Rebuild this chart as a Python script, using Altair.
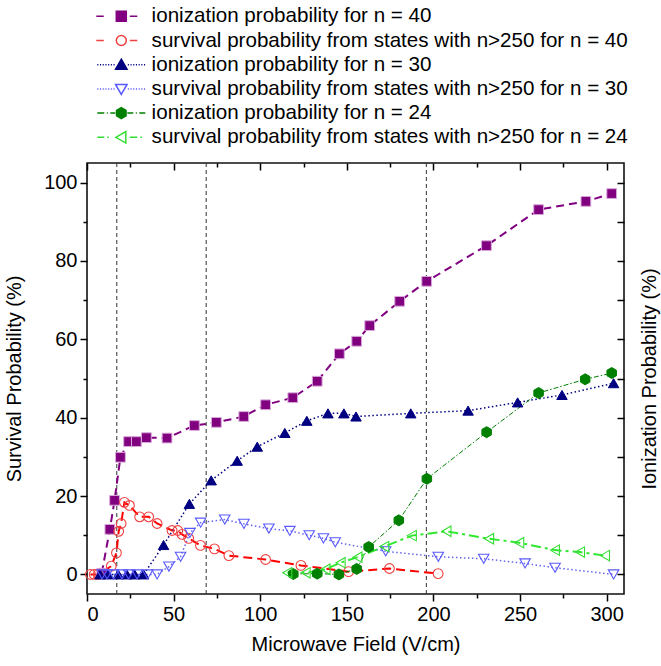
import altair as alt
import pandas as pd

# ---------------- data ----------------
names = [
    "ionization probability for n = 40",
    "survival probability from states with n>250 for n = 40",
    "ionization probability for n = 30",
    "survival probability from states with n>250 for n = 30",
    "ionization probability for n = 24",
    "survival probability from states with n>250 for n = 24",
]

ion40_x = [8.5, 13.2, 15.9, 19.3, 24.0, 28.5, 34.3, 46.2, 62.0, 74.7, 90.5, 103.1, 118.8,
           132.9, 145.7, 155.7, 163.2, 180.5, 196.1, 230.6, 260.7, 288.0, 302.9]
ion40_y = [0.3, 11.5, 18.9, 29.9, 33.9, 33.9, 34.9, 34.8, 38.0, 38.8, 40.3, 43.3, 45.1,
           49.3, 56.3, 59.5, 63.5, 69.7, 74.8, 83.9, 93.1, 95.2, 97.2]

surv40_x = [2.0, 4.2, 6.5, 14.0, 17.0, 18.3, 19.7, 21.6, 24.5, 30.4, 35.6, 40.5, 49.1, 52.4,
            54.9, 58.7, 65.5, 73.6, 81.9, 103.1, 123.5, 151.0, 174.6, 202.7]
surv40_y = [0.0, 0.0, 0.0, 2.1, 5.5, 11.0, 13.0, 18.4, 17.6, 14.7, 14.7, 13.0, 11.2, 11.2,
            10.2, 9.2, 7.4, 6.5, 4.8, 3.8, 2.3, 0.7, 1.5, 0.2]

ion30_x = [7.5, 12.0, 18.0, 23.0, 27.5, 32.7, 44.2, 59.1, 71.7, 86.7, 98.3, 114.2, 126.9,
           139.1, 148.3, 155.3, 186.9, 220.0, 248.6, 274.2, 304.0]
ion30_y = [0.0, 0.0, 0.0, 0.0, 0.0, 0.0, 7.5, 18.0, 24.0, 29.0, 32.6, 36.1, 39.2,
           41.1, 41.1, 40.3, 41.1, 41.8, 43.9, 45.8, 48.8]

surv30_x = [8.7, 11.6, 15.4, 20.2, 24.0, 28.9, 35.0, 40.5, 47.3, 54.0, 59.4, 65.6, 79.5,
            90.6, 105.0, 117.1, 128.3, 136.5, 143.3, 172.4, 202.8, 229.0, 252.9, 270.2, 304.0]
surv30_y = [0.0, 0.0, 0.0, 0.0, 0.0, 0.0, 0.0, 0.0, 2.0, 4.5, 10.6, 13.2, 14.0,
            12.9, 11.7, 11.1, 10.0, 9.2, 8.2, 5.9, 4.5, 4.0, 2.8, 1.7, 0.0]

ion24_x = [119.1, 132.9, 145.4, 155.7, 162.6, 180.0, 196.2, 230.7, 260.7, 287.6, 302.9]
ion24_y = [0.1, 0.2, 0.0, 1.4, 7.0, 13.8, 24.4, 36.3, 46.3, 49.8, 51.4]

surv24_x = [115.6, 126.2, 137.7, 146.4, 156.1, 171.6, 187.5, 207.5, 232.1, 249.5, 270.1, 284.6, 299.0]
surv24_y = [0.4, 0.4, 1.3, 3.0, 4.4, 7.1, 9.9, 11.0, 9.1, 8.1, 6.2, 5.7, 4.8]

vline_x = [17.2, 68.8, 195.9]

x_major = [0, 50, 100, 150, 200, 250, 300]
x_minor = [25, 75, 125, 175, 225, 275]
y_major = [0, 20, 40, 60, 80, 100]
y_minor = [10, 30, 50, 70, 90]
y_right = [0, 10, 20, 30, 40, 50, 60, 70, 80, 90, 100]

series_x = [ion40_x, surv40_x, ion30_x, surv30_x, ion24_x, surv24_x]
series_y = [ion40_y, surv40_y, ion30_y, surv30_y, ion24_y, surv24_y]

# ---------------- styles ----------------
FONT = "Liberation Sans"
line_colors = ["#800080", "#ff0000", "#000080", "#6464f0", "#008000", "#2ee82e"]
mark_colors = ["#800080", "#f04040", "#000080", "#5a5aff", "#008000", "#33dd33"]
filled = [True, False, True, False, True, False]
dashes = [[8, 5], [9, 5], [1.5, 2.5], [1.5, 2.5], [5, 2, 1.5, 2], [10, 4, 3, 4]]
widths = [2, 2, 1.5, 1.5, 1, 2]
hexagon = "M0,-1.1L0.95,-0.55V0.55L0,1.1L-0.95,0.55V-0.55Z"
shapes = ["square", "circle", "triangle-up", "triangle-down", hexagon, "triangle-left"]
sizes = [95, 95, 110, 110, 100, 110]


def dots(a, b, on=0.22, off=0.32):
    out, x = [], a
    while x + on <= b + 1e-9:
        out.append(f"M{x:.2f},0H{x + on:.2f}")
        x += on + off
    return "".join(out)


sq = "M-1,-1H1V1H-1Z"
circ = "M1,0A1,1,0,1,1,-1,0A1,1,0,1,1,1,0Z"
tri_up = "M0,-1.1L1.15,0.9H-1.15Z"
tri_dn = "M0,1.1L1.15,-0.9H-1.15Z"
tri_lf = "M-1.1,0L0.9,-1.15V1.15Z"
dash2 = "M-5,0H-3.5M1.7,0H3.2"
legend_paths = [
    dash2 + sq,
    dash2 + circ,
    dots(-4.8, -1.3) + dots(1.3, 4.8) + tri_up,
    dots(-4.8, -1.3) + dots(1.3, 4.8) + tri_dn,
    "M-4.8,0H-3.4M-2.9,0H-2.7M-2.2,0H-1.2M1.2,0H2.4M2.9,0H3.1M3.6,0H4.8" + hexagon,
    "M-4.8,0H-3.4M-2.8,0H-2.5M1.7,0H3.2M3.8,0H4.1" + tri_lf,
]
legend_fill = ["#800080", "#ffffff", "#000080", "#ffffff", "#008000", "#ffffff"]

# ---------------- tables ----------------
frames = []
for n, xs_, ys_ in zip(names, series_x, series_y):
    frames.append(pd.DataFrame({"x": xs_, "y": ys_, "series": n}))
all_df = pd.concat(frames, ignore_index=True)
vline_df = pd.DataFrame({"x": vline_x})

xscale = alt.Scale(domain=[0, 310], nice=False, zero=False)
yscale = alt.Scale(domain=[-5, 105], nice=False, zero=False)

ax_x_major = alt.Axis(orient="bottom", values=x_major, tickSize=7, labelPadding=3, domain=False,
                      grid=False, title="Microwave Field (V/cm)", titlePadding=10, format="d")
ax_x_minor = alt.Axis(orient="bottom", values=x_minor, tickSize=4, labels=False, domain=False,
                      grid=False, title=None)
ax_x_top = alt.Axis(orient="top", values=x_major, tickSize=7, offset=-7, labels=False,
                    domain=False, grid=False, title=None)
ax_x_top_minor = alt.Axis(orient="top", values=x_minor, tickSize=4, offset=-4, labels=False,
                          domain=False, grid=False, title=None)
ax_y_major = alt.Axis(orient="left", values=y_major, tickSize=7, labelPadding=3, domain=False,
                      grid=False, title="Survival Probability (%)", titlePadding=19, format="d")
ax_y_minor = alt.Axis(orient="left", values=y_minor, tickSize=4, labels=False, domain=False,
                      grid=False, title=None)
ax_y_right = alt.Axis(orient="right", values=y_right, tickSize=7, offset=-7, labels=False,
                      domain=False, grid=False, title="Ionization Probability (%)",
                      titleAngle=270, titleBaseline="top", titlePadding=15)

line_axes = [(ax_x_major, ax_y_major), (ax_x_top, ax_y_right)]
point_axes = [(ax_x_minor, ax_y_minor), (ax_x_top_minor, None)]

layers = []
layers.append(
    alt.Chart(vline_df).mark_rule(color="#333333", strokeDash=[4, 3], strokeWidth=1).encode(
        x=alt.X("x:Q", scale=xscale, axis=None)
    )
)

line_layers, point_layers = [], []
for i, n in enumerate(names):
    df = frames[i]
    if i < 2:
        axl_x, axl_y = line_axes[i]
        axp_x, axp_y = point_axes[i]
    else:
        axl_x = axl_y = axp_x = axp_y = None
    line_layers.append(
        alt.Chart(df).mark_line(color=line_colors[i], strokeDash=dashes[i],
                                strokeWidth=widths[i]).encode(
            x=alt.X("x:Q", scale=xscale, axis=axl_x),
            y=alt.Y("y:Q", scale=yscale, axis=axl_y),
            order="x:Q",
        )
    )
    if filled[i]:
        pm = alt.Chart(df).mark_point(shape=shapes[i], size=sizes[i], filled=True,
                                      fill=mark_colors[i],
                                      stroke="#d9a8d9" if i == 0 else mark_colors[i],
                                      strokeWidth=1, opacity=1)
    else:
        pm = alt.Chart(df).mark_point(shape=shapes[i], size=sizes[i], filled=False,
                                      stroke=mark_colors[i], strokeWidth=1.1, opacity=1)
    point_layers.append(
        pm.encode(
            x=alt.X("x:Q", scale=xscale, axis=axp_x),
            y=alt.Y("y:Q", scale=yscale, axis=axp_y),
        )
    )

layers += line_layers + point_layers

leg = alt.Legend(orient="none", legendX=24, legendY=-157, title=None, labelFontSize=20.6,
                 labelFont=FONT, labelColor="black", labelLimit=800, symbolSize=100,
                 symbolStrokeWidth=1.5, symbolOpacity=1, rowPadding=3.2, labelOffset=20,
                 padding=0, symbolOffset=0)

legend_layer = alt.Chart(all_df).mark_point(filled=True, opacity=0, size=100).encode(
    x=alt.X("x:Q", scale=xscale, axis=None),
    y=alt.Y("y:Q", scale=yscale, axis=None),
    shape=alt.Shape("series:N", scale=alt.Scale(domain=names, range=legend_paths), legend=leg),
    fill=alt.Fill("series:N", scale=alt.Scale(domain=names, range=legend_fill), legend=leg),
    stroke=alt.Stroke("series:N", scale=alt.Scale(domain=names, range=mark_colors), legend=leg),
)
layers.append(legend_layer)

chart = alt.layer(*layers).resolve_axis(x="independent", y="independent").properties(
    width=537, height=431,
    background="white",
    autosize=alt.AutoSizeParams(type="none"),
    padding={"left": 87, "top": 163, "right": 37, "bottom": 72},
).configure_view(stroke="#111111", strokeWidth=1.6).configure_axis(
    labelFont=FONT, labelFontSize=20, labelColor="black", titleFont=FONT, titleFontSize=20,
    titleFontWeight="normal", titleColor="black", tickColor="black", tickWidth=1.5
)

chart.save("out.html", embed_options={"renderer": "svg", "actions": False})
